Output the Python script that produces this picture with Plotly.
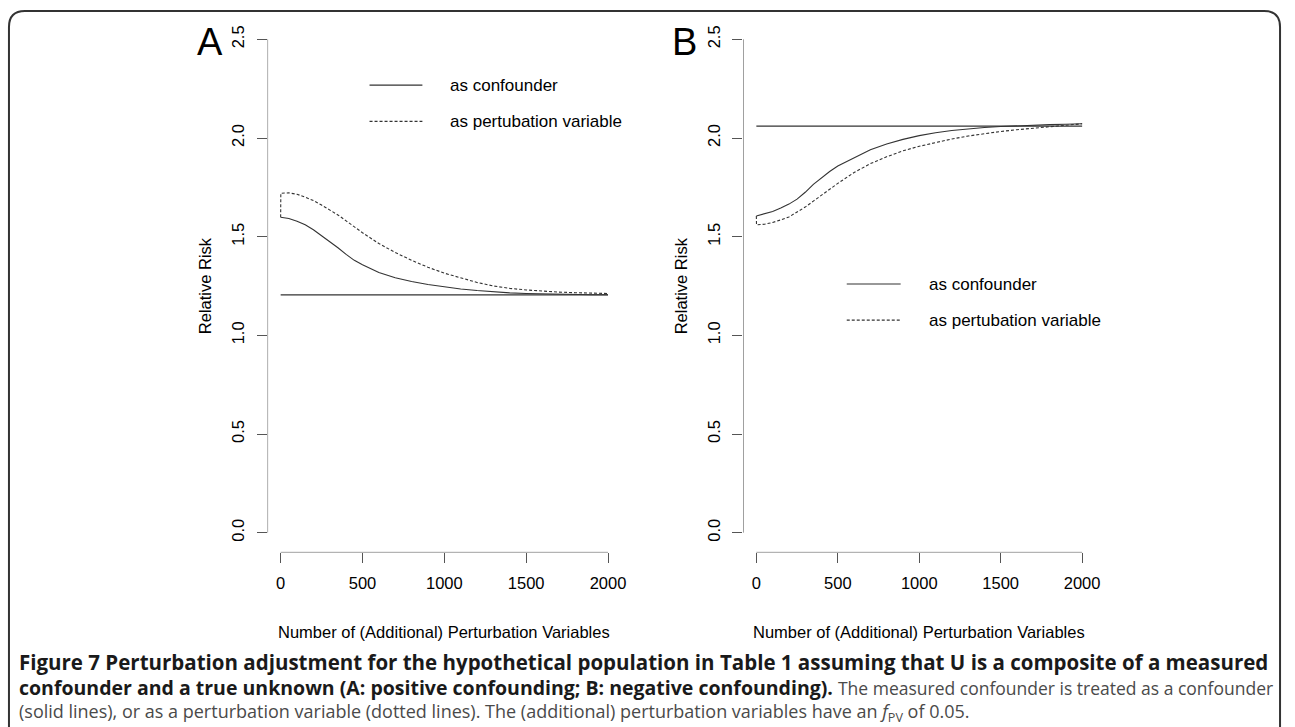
import plotly.graph_objects as go

W, H = 1295, 727

# ---------------- data ----------------
x_ticks = [0, 500, 1000, 1500, 2000]
y_ticks = [0.0, 0.5, 1.0, 1.5, 2.0, 2.5]
y_ticktext = ["0.0", "0.5", "1.0", "1.5", "2.0", "2.5"]

x_conf = [0, 50, 100, 150, 200, 250, 300, 350, 400, 450, 500, 600, 700, 800, 900,
          1000, 1100, 1200, 1300, 1400, 1500, 1600, 1700, 1800, 1900, 2000]
x_pv = [0, 1, 50, 100, 150, 200, 250, 300, 350, 400, 450, 500, 600, 700, 800, 900,
        1000, 1100, 1200, 1300, 1400, 1500, 1600, 1700, 1800, 1900, 2000]

# Panel A (positive confounding)
rr_true_A = 1.205
yA_conf = [1.598, 1.592, 1.578, 1.560, 1.535, 1.505, 1.473, 1.444, 1.410, 1.380, 1.358,
           1.318, 1.292, 1.273, 1.258, 1.245, 1.235, 1.227, 1.220, 1.215, 1.212, 1.210,
           1.208, 1.207, 1.206, 1.206]
yA_pv = [1.598, 1.720, 1.722, 1.715, 1.700, 1.683, 1.660, 1.635, 1.610, 1.580, 1.550,
         1.520, 1.465, 1.420, 1.380, 1.345, 1.315, 1.290, 1.268, 1.250, 1.238, 1.230,
         1.224, 1.219, 1.216, 1.213, 1.212]

# Panel B (negative confounding)
rr_true_B = 2.06
yB_conf = [1.605, 1.615, 1.628, 1.645, 1.665, 1.690, 1.725, 1.765, 1.800, 1.830, 1.858,
           1.900, 1.940, 1.970, 1.993, 2.012, 2.027, 2.038, 2.046, 2.053, 2.058, 2.062,
           2.065, 2.068, 2.070, 2.072]
yB_pv = [1.605, 1.560, 1.563, 1.572, 1.585, 1.600, 1.625, 1.650, 1.680, 1.710, 1.740,
         1.770, 1.825, 1.870, 1.905, 1.935, 1.958, 1.978, 1.995, 2.010, 2.022, 2.033,
         2.042, 2.050, 2.058, 2.065, 2.072]

legend_labels = ["as confounder", "as pertubation variable"]
panel_labels = ["A", "B"]
x_title = "Number of (Additional) Perturbation Variables"
y_title = "Relative Risk"

# ---------------- layout helpers ----------------
def px(x):
    return x / W

def py(y):
    return 1 - y / H

LINE = "#333333"
AXC = "#555555"
FONT = "Liberation Sans, Arial, sans-serif"

domA = [268.6 / W, 623.5 / W]
domB = [746.2 / W, 1099.4 / W]
domY = [1 - 552.4 / H, 1 - 19.6 / H]
xr = [-80, 2080]
yr = [-0.1, 2.6]

fig = go.Figure()

panels = [
    ("x", "y", rr_true_A, yA_conf, yA_pv),
    ("x2", "y2", rr_true_B, yB_conf, yB_pv),
]
for xa, ya, rr, yc, yp in panels:
    fig.add_trace(go.Scatter(x=[x_conf[0], x_conf[-1]], y=[rr, rr], mode="lines",
                             line=dict(color=LINE, width=1.2), xaxis=xa, yaxis=ya,
                             showlegend=False, hoverinfo="skip"))
    fig.add_trace(go.Scatter(x=x_conf, y=yc, mode="lines", line=dict(color=LINE, width=1.1),
                             xaxis=xa, yaxis=ya, showlegend=False, name=legend_labels[0]))
    fig.add_trace(go.Scatter(x=x_pv, y=yp, mode="lines",
                             line=dict(color=LINE, width=1.1, dash="3px,2px"),
                             xaxis=xa, yaxis=ya, showlegend=False, name=legend_labels[1]))

axis_common = dict(range=xr, showgrid=False, zeroline=False, showline=False,
                   ticks="outside", ticklen=10, tickcolor=AXC, tickwidth=1,
                   tickvals=x_ticks, tickfont=dict(family=FONT, size=16.5, color="black"),
                   ticklabelstandoff=6, fixedrange=True)
yaxis_common = dict(range=yr, showgrid=False, zeroline=False, showline=False,
                    ticks="outside", ticklen=10, tickcolor=AXC, tickwidth=1,
                    tickvals=y_ticks, ticktext=y_ticktext, tickangle=-90,
                    tickfont=dict(family=FONT, size=16.5, color="black"),
                    ticklabelstandoff=6, fixedrange=True)

fig.update_layout(
    width=W, height=H, margin=dict(l=0, r=0, t=0, b=0),
    paper_bgcolor="white", plot_bgcolor="white",
    xaxis=dict(domain=domA, anchor="y", **axis_common),
    yaxis=dict(domain=domY, anchor="x", **yaxis_common),
    xaxis2=dict(domain=domB, anchor="y2", **axis_common),
    yaxis2=dict(domain=domY, anchor="x2", **yaxis_common),
)

shapes = []
annotations = []
legend_pos = [
    # (x0, x1, text_x, y_first, y_second)
    (543, 866, 1023, 2.268, 2.084),
    (555, 886, 1045, 1.260, 1.077),
]
for i, (xa, ya) in enumerate([("x", "y"), ("x2", "y2")]):
    # axis lines spanning the tick range (R style)
    shapes.append(dict(type="line", xref=xa, yref=ya, x0=-80, x1=-80, y0=0, y1=2.5,
                       line=dict(color=AXC, width=1)))
    shapes.append(dict(type="line", xref=xa, yref=ya, x0=0, x1=2000, y0=-0.1, y1=-0.1,
                       line=dict(color=AXC, width=1)))
    lx0, lx1, tx, yl1, yl2 = legend_pos[i]
    shapes.append(dict(type="line", xref=xa, yref=ya, x0=lx0, x1=lx1, y0=yl1, y1=yl1,
                       line=dict(color=LINE, width=1.1)))
    shapes.append(dict(type="line", xref=xa, yref=ya, x0=lx0, x1=lx1, y0=yl2, y1=yl2,
                       line=dict(color=LINE, width=1.1, dash="3px,2px")))
    for lab, yy in zip(legend_labels, [yl1, yl2]):
        annotations.append(dict(xref=xa, yref=ya, x=tx, y=yy, text=lab, showarrow=False,
                                xanchor="left", yanchor="middle",
                                font=dict(family=FONT, size=17, color="black")))

# axis titles and panel letters
for cx, axx in [((268.6 + 623.5) / 2, 206), ((746.2 + 1099.4) / 2, 684)]:
    annotations.append(dict(xref="paper", yref="paper", x=px(cx), y=py(632), text=x_title,
                            showarrow=False, xanchor="center", yanchor="middle",
                            font=dict(family=FONT, size=16.5, color="black")))
    annotations.append(dict(xref="paper", yref="paper", x=px(axx), y=py(286), text=y_title,
                            showarrow=False, xanchor="center", yanchor="middle", textangle=-90,
                            font=dict(family=FONT, size=16.5, color="black")))
annotations.append(dict(xref="paper", yref="paper", x=px(210.7), y=py(42), text=panel_labels[0],
                        showarrow=False, xanchor="center", yanchor="middle",
                        font=dict(family=FONT, size=38, color="black")))
annotations.append(dict(xref="paper", yref="paper", x=px(687), y=py(42), text=panel_labels[1],
                        showarrow=False, xanchor="center", yanchor="middle",
                        font=dict(family=FONT, size=38, color="black")))

# caption
CAPF = "Open Sans, Lato, sans-serif"
GRAY = "#4a4a4a"
cap_lines = [
    ("<b>Figure 7 Perturbation adjustment for the hypothetical population in Table 1 assuming that U is a composite of a measured</b>",
     20.5, 662),
    ("<b>confounder and a true unknown (A: positive confounding; B: negative confounding).</b> "
     f"<span style='color:{GRAY};font-size:17.5px'>The measured confounder is treated as a confounder</span>",
     19.5, 687.5),
    (f"<span style='color:{GRAY}'>(solid lines), or as a perturbation variable (dotted lines). The (additional) perturbation variables have an "
     "<i>f</i><sub>PV</sub> of 0.05.</span>",
     18, 712),
]
for line, fs, yy in cap_lines:
    annotations.append(dict(xref="paper", yref="paper", x=px(17), y=py(yy), text=line,
                            showarrow=False, xanchor="left", yanchor="middle",
                            font=dict(family=CAPF, size=fs, color="#1a1a1a")))

# rounded border
L, T, R, B, r = 9, 11, 1285, 740, 16
path = (f"M {px(L)},{py(B)} L {px(L)},{py(T + r)} Q {px(L)},{py(T)} {px(L + r)},{py(T)} "
        f"L {px(R - r)},{py(T)} Q {px(R)},{py(T)} {px(R)},{py(T + r)} L {px(R)},{py(B)}")
shapes.append(dict(type="path", xref="paper", yref="paper", path=path,
                   line=dict(color="#333333", width=2)))

fig.update_layout(shapes=shapes, annotations=annotations)
fig.write_html("out.html")
